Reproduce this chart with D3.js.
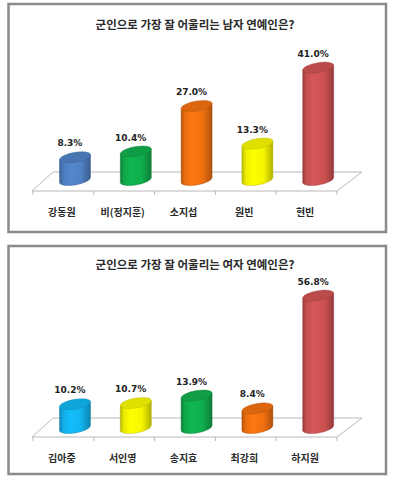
<!DOCTYPE html>
<html>
<head>
<meta charset="utf-8">
<script src="https://cdn.jsdelivr.net/npm/d3@7"></script>
<style>
  body { margin: 0; background: #fff; }
  svg { display: block; }
</style>
</head>
<body>
<div id="chart"></div>
<script>
// the data
const maleTitle = "군인으로 가장 잘 어울리는 남자 연예인은?";
const maleNames = ["강동원", "비(정지훈)", "소지섭", "원빈", "현빈"];
const maleValues = [8.3, 10.4, 27.0, 13.3, 41.0];
const maleColors = ["#4f81c4", "#10ad4c", "#f07010", "#f5f500", "#cc5252"];

const femaleTitle = "군인으로 가장 잘 어울리는 여자 연예인은?";
const femaleNames = ["김아중", "서인영", "송지효", "최강희", "하지원"];
const femaleValues = [10.2, 10.7, 13.9, 8.4, 56.8];
const femaleColors = ["#12b4ee", "#f5f500", "#10ad4c", "#f07010", "#cc5252"];

const width = 394, height = 480;

const svg = d3.select("#chart").append("svg")
    .attr("width", width)
    .attr("height", height);

const defs = svg.append("defs");

// one gradient per colour, dark edges and a light stripe on the left
function gradient(color) {
  const id = "g" + color.slice(1);
  if (!defs.select("#" + id).empty()) return "url(#" + id + ")";
  const c = d3.color(color);
  const lg = defs.append("linearGradient").attr("id", id)
      .attr("x1", 0).attr("x2", 1).attr("y1", 0).attr("y2", 0);
  lg.append("stop").attr("offset", 0).attr("stop-color", c.darker(0.8));
  lg.append("stop").attr("offset", 0.12).attr("stop-color", c.darker(0.1));
  lg.append("stop").attr("offset", 0.35).attr("stop-color", c.brighter(0.15));
  lg.append("stop").attr("offset", 0.7).attr("stop-color", c);
  lg.append("stop").attr("offset", 1).attr("stop-color", c.darker(0.9));
  return "url(#" + id + ")";
}

function drawPanel(p) {
  const g = svg.append("g");

  // frame
  g.append("rect")
      .attr("x", 8.5).attr("y", p.top)
      .attr("width", 377.5).attr("height", 228)
      .attr("fill", "#fff")
      .attr("stroke", "#8a8a8a")
      .attr("stroke-width", 2.5);

  g.append("text")
      .attr("x", 195).attr("y", p.titleY)
      .attr("text-anchor", "middle")
      .attr("font-family", "'Noto Sans CJK KR', sans-serif")
      .attr("font-weight", "bold")
      .attr("font-size", 11.5)
      .attr("fill", "#2a2a2a")
      .text(p.title);

  const x = d3.scaleBand()
      .domain(p.names)
      .range([33, 337])
      .padding(0);

  const y = d3.scaleLinear()
      .domain([0, p.max])
      .range([p.zero, p.zero - p.max * p.px]);

  // the floor
  const dx = 21, dy = 19;
  const front = p.front;
  g.append("path")
      .attr("d", `M${x.range()[0] - 1},${front} L${x.range()[1]},${front} L${x.range()[1] + dx + 4},${front - dy} L${x.range()[0] + dx - 1},${front - dy} Z`)
      .attr("fill", "#fff")
      .attr("stroke", "#b8b8b8")
      .attr("stroke-width", 1);

  // ticks on the front edge
  const ticks = p.names.map(d => x(d)).concat([x.range()[1]]);
  g.selectAll(".tick")
    .data(ticks)
    .join("line")
      .attr("x1", d => d).attr("x2", d => d)
      .attr("y1", front).attr("y2", front + 4)
      .attr("stroke", "#b8b8b8");

  // category labels
  g.selectAll(".cat")
    .data(p.names)
    .join("text")
      .attr("x", d => x(d) + x.bandwidth() / 2 - 1.5)
      .attr("y", p.labelY)
      .attr("text-anchor", "middle")
      .attr("font-family", "'Noto Sans CJK KR', sans-serif")
      .attr("font-weight", "bold")
      .attr("font-size", 10)
      .attr("fill", "#2a2a2a")
      .text(d => d);

  const rx = 15.5, ry = 5;
  const data = p.names.map((n, i) => ({name: n, value: p.values[i], color: p.colors[i]}));

  // cylinders
  const cyl = g.selectAll(".cyl")
    .data(data)
    .join("g")
      .attr("transform", d => `translate(${x(d.name) + x.bandwidth() / 2 + 11.6},0) skewY(-9)`);

  cyl.append("path")
      .attr("d", d => `M${-rx},${y(d.value)} L${-rx},${y(0)} A${rx},${ry} 0 0 0 ${rx},${y(0)} L${rx},${y(d.value)} Z`)
      .attr("fill", d => gradient(d.color))
      .attr("stroke", d => d3.color(d.color).darker(1))
      .attr("stroke-width", 0.4);

  cyl.append("ellipse")
      .attr("cx", 0).attr("cy", d => y(d.value))
      .attr("rx", rx).attr("ry", ry)
      .attr("fill", d => d3.color(d.color).darker(0.25))
      .attr("stroke", d => d3.color(d.color).darker(0.8))
      .attr("stroke-width", 0.4);

  // value labels
  g.selectAll(".val")
    .data(data)
    .join("text")
      .attr("x", d => x(d.name) + x.bandwidth() / 2 + 6.5)
      .attr("y", d => y(d.value) - ry - 6)
      .attr("text-anchor", "middle")
      .attr("font-family", "'DejaVu Sans', Verdana, sans-serif")
      .attr("font-weight", "bold")
      .attr("font-size", 9)
      .attr("fill", "#222")
      .text(d => d.value.toFixed(1) + "%");
}

drawPanel({top: 4, title: maleTitle, names: maleNames, values: maleValues, colors: maleColors,
  titleY: 29, front: 191, zero: 180, max: 45, px: 2.74, labelY: 216});

drawPanel({top: 246, title: femaleTitle, names: femaleNames, values: femaleValues, colors: femaleColors,
  titleY: 269, front: 437, zero: 428, max: 60, px: 2.33, labelY: 462});
</script>
</body>
</html>
